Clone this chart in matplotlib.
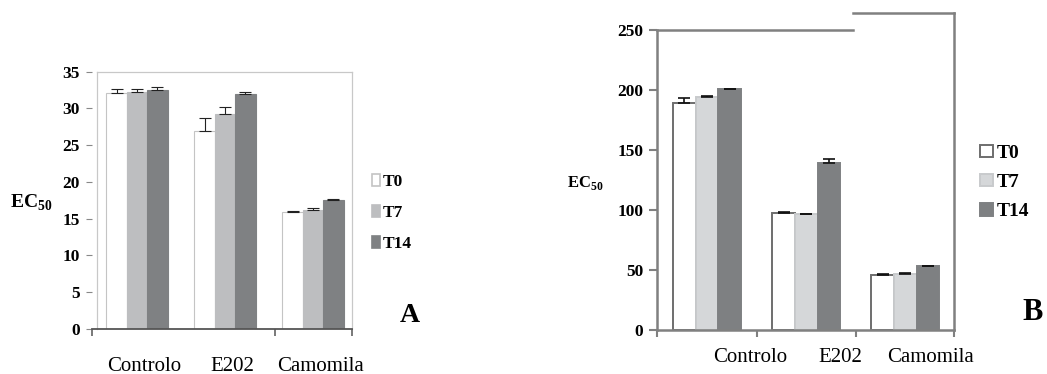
import matplotlib
matplotlib.use('Agg')
import matplotlib.pyplot as plt
import numpy as np
from matplotlib.patches import Patch

plt.rcParams['font.family'] = ['Liberation Serif', 'DejaVu Serif']
plt.rcParams['mathtext.fontset'] = 'custom'
plt.rcParams['mathtext.rm'] = 'Liberation Serif'
plt.rcParams['mathtext.bf'] = 'Liberation Serif:bold'

# ---- data ----
categories = ['Controlo', 'E202', 'Camomila']
series = ['T0', 'T7', 'T14']

a_t0 = [32.15, 26.9, 15.9]
a_t7 = [32.3, 29.25, 16.2]
a_t14 = [32.5, 31.95, 17.55]
a_err_t0 = [0.55, 1.75, 0.15]
a_err_t7 = [0.3, 0.9, 0.2]
a_err_t14 = [0.4, 0.35, 0.1]
a_yticks = [0, 5, 10, 15, 20, 25, 30, 35]

b_t0 = [189.4, 97.2, 46.1]
b_t7 = [194.4, 96.7, 46.9]
b_t14 = [200.5, 138.9, 53.1]
b_err_t0 = [4.2, 1.4, 0.8]
b_err_t7 = [0.9, 0.3, 0.3]
b_err_t14 = [0.2, 3.9, 0.1]
b_yticks = [0, 50, 100, 150, 200, 250]

W, H = 1047, 374
fig = plt.figure(figsize=(W / 100, H / 100), dpi=100)

def fx(px):
    return px / W

def fy(py):
    return 1 - py / H

x = np.arange(len(categories))

# ================= Panel A =================
axA = fig.add_axes([fx(92), fy(329), fx(352) - fx(92), fy(71.7) - fy(329)])
wA = 0.232
colsA = ['white', '#bdbec0', '#7f8183']
edgesA = ['#c4c4c4', '#bdbec0', '#7f8183']
valsA = [a_t0, a_t7, a_t14]
errsA = [a_err_t0, a_err_t7, a_err_t14]
for i in range(3):
    axA.bar(x + (i - 1) * wA, valsA[i], wA, color=colsA[i], edgecolor=edgesA[i],
            linewidth=0.8, zorder=2)
    axA.errorbar(x + (i - 1) * wA, valsA[i], yerr=[np.zeros(3), errsA[i]], fmt='none',
                 ecolor='#222222', elinewidth=0.8, capsize=4, capthick=0.8, zorder=3)
xlA = (-0.511, 2.443)
axA.set_xlim(*xlA)
axA.set_ylim(0, 35)
for s in ['left', 'top', 'right']:
    axA.spines[s].set_visible(False)
axA.spines['bottom'].set_color('#555555')
axA.spines['bottom'].set_linewidth(1.3)
frame_left = -0.4545
axA.plot([frame_left, frame_left], [0, 35], color='#c8c8c8', lw=0.9, clip_on=False, zorder=1)
axA.plot([frame_left, xlA[1]], [35, 35], color='#c8c8c8', lw=0.9, clip_on=False, zorder=1)
axA.plot([xlA[1], xlA[1]], [0, 35], color='#c8c8c8', lw=0.9, clip_on=False, zorder=1)
axA.set_yticks(a_yticks)
axA.set_yticklabels([str(v) for v in a_yticks], fontsize=12.5, fontweight='bold')
axA.tick_params(axis='y', length=4, color='#888888', pad=5)
axA.set_xticks(x + 0.08)
axA.set_xticklabels(categories, fontsize=15)
axA.tick_params(axis='x', length=0, pad=20)
axA.set_xticks([xlA[0], 1.568, xlA[1]], minor=True)
axA.tick_params(axis='x', which='minor', length=5, width=1.1, color='#555555')
fig.text(fx(31), fy(203), r'$\mathbf{EC}_{\mathbf{50}}$', fontsize=14, ha='center', va='center')
fig.text(fx(410), fy(315), 'A', fontsize=20, fontweight='bold', ha='center', va='center')
handlesA = [Patch(facecolor=colsA[i], edgecolor=edgesA[i], linewidth=1.2) for i in range(3)]
fig.legend(handlesA, series, loc='upper left', bbox_to_anchor=(fx(372), fy(174)),
           frameon=False, handlelength=0.45, handleheight=0.7, handletextpad=0.15,
           labelspacing=0.85, borderpad=0, borderaxespad=0,
           prop={'size': 12.5, 'weight': 'bold'})

# ================= Panel B =================
axB = fig.add_axes([fx(657), fy(330), fx(954) - fx(657), fy(30) - fy(330)])
wB = 0.228
colsB = ['white', '#d5d7d9', '#7e8082']
edgesB = ['#6e6e6e', '#c8cacc', '#7e8082']
valsB = [b_t0, b_t7, b_t14]
errsB = [b_err_t0, b_err_t7, b_err_t14]
for i in range(3):
    axB.bar(x + (i - 1) * wB, valsB[i], wB, color=colsB[i], edgecolor=edgesB[i],
            linewidth=1.4, zorder=2)
    axB.errorbar(x + (i - 1) * wB, valsB[i], yerr=[np.zeros(3), errsB[i]], fmt='none',
                 ecolor='#111111', elinewidth=1.2, capsize=4, capthick=1.2, zorder=3)
xlB = (-0.505, 2.49)
axB.set_xlim(*xlB)
axB.set_ylim(0, 250)
fc = '#808080'
for s in ['top', 'right']:
    axB.spines[s].set_visible(False)
for s in ['left', 'bottom']:
    axB.spines[s].set_color(fc)
    axB.spines[s].set_linewidth(1.8)
split = 1.475
top2 = 264.2
axB.plot([xlB[0], split], [250, 250], color=fc, lw=1.8, clip_on=False, zorder=1)
axB.plot([split, xlB[1]], [top2, top2], color=fc, lw=1.8, clip_on=False, zorder=1)
axB.plot([xlB[1], xlB[1]], [0, top2], color=fc, lw=1.8, clip_on=False, zorder=1,
         solid_capstyle='projecting')
axB.set_yticks(b_yticks)
axB.set_yticklabels([str(v) for v in b_yticks], fontsize=12.5, fontweight='bold')
axB.tick_params(axis='y', length=6, width=1.5, color=fc, pad=4)
axB.set_xticks(x * 0.91 + 0.43)
axB.set_xticklabels(categories, fontsize=15)
axB.tick_params(axis='x', length=0, pad=13)
axB.set_xticks([-0.505, 0.5, 1.5, 2.49], minor=True)
axB.tick_params(axis='x', which='minor', length=5, width=1.5, color=fc)
fig.text(fx(585), fy(183), r'$\mathbf{EC}_{\mathbf{50}}$', fontsize=12, ha='center', va='center')
fig.text(fx(1033), fy(312), 'B', fontsize=22, fontweight='bold', ha='center', va='center')
handlesB = [Patch(facecolor=colsB[i], edgecolor=edgesB[i], linewidth=1.4) for i in range(3)]
fig.legend(handlesB, series, loc='upper left', bbox_to_anchor=(fx(980), fy(145)),
           frameon=False, handlelength=0.65, handleheight=0.6, handletextpad=0.2,
           labelspacing=0.62, borderpad=0, borderaxespad=0,
           prop={'size': 14, 'weight': 'bold'})

fig.savefig('out.png', dpi=100)
